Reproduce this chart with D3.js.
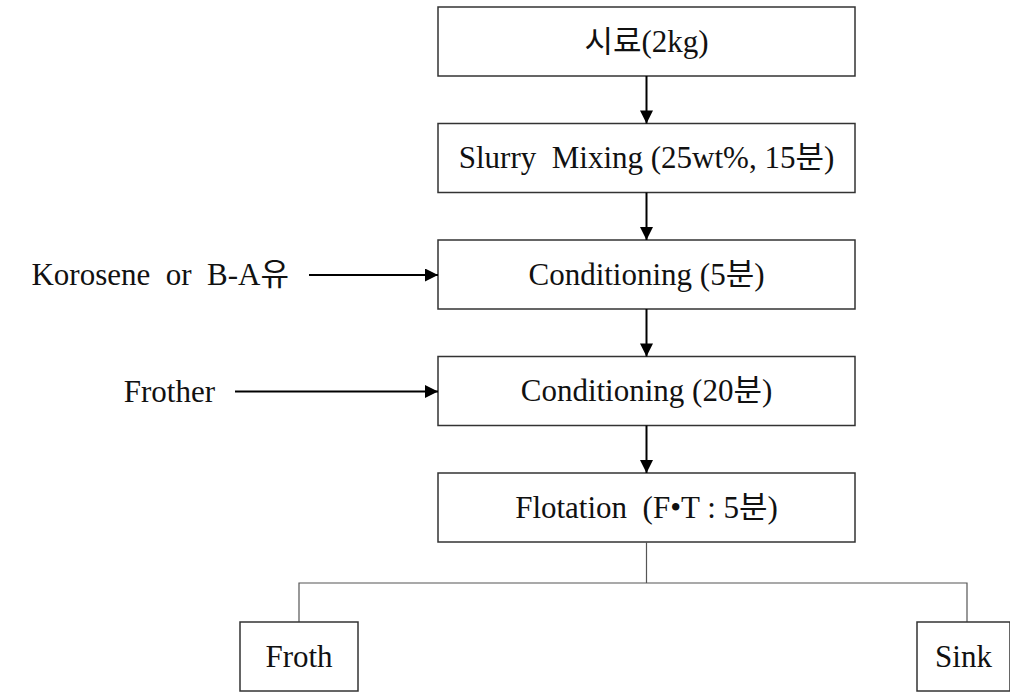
<!DOCTYPE html>
<html>
<head>
<meta charset="utf-8">
<script src="https://cdn.jsdelivr.net/npm/d3@7"></script>
<style>
  html, body { margin: 0; padding: 0; background: #fff; }
  svg text { font-family: "Liberation Serif", "DejaVu Serif", "Noto Sans CJK KR", serif; fill: #111; }
</style>
</head>
<body>
<svg id="chart" width="1010" height="692"></svg>
<script>
// Main process steps (top to bottom)
const STEPS = [
  "시료(2kg)",
  "Slurry  Mixing (25wt%, 15분)",
  "Conditioning (5분)",
  "Conditioning (20분)",
  "Flotation  (F•T : 5분)",
];

// Reagent inputs: label and the step it feeds
const INPUTS = [
  { label: "Korosene  or  B-A유", step: 2 },
  { label: "Frother", step: 3 },
];

// Products after flotation
const PRODUCTS = ["Froth", "Sink"];

const svg = d3.select("#chart");
const FS = 31;

// layout
const boxW = 417, boxH = 69;
const x = d3.scaleLinear().domain([0, 1]).range([438, 438 + boxW]);
const y = d3.scaleLinear().domain([0, STEPS.length - 1]).range([7, 473]);
const cx = x(0.5);

svg.append("defs").append("marker")
  .attr("id", "head")
  .attr("viewBox", "0 0 10 10")
  .attr("refX", 10).attr("refY", 5)
  .attr("markerWidth", 14).attr("markerHeight", 13)
  .attr("markerUnits", "userSpaceOnUse")
  .attr("orient", "auto")
  .append("path").attr("d", "M0,0 L10,5 L0,10 Z").attr("fill", "#000");

// boxes
const box = svg.selectAll("g.step").data(STEPS).join("g").attr("class", "step");
box.append("rect")
  .attr("x", x(0)).attr("y", (d, i) => y(i))
  .attr("width", boxW).attr("height", boxH)
  .attr("fill", "#fff").attr("stroke", "#333").attr("stroke-width", 1.5);
box.append("text")
  .attr("x", cx).attr("y", (d, i) => y(i) + boxH / 2 + 10)
  .attr("text-anchor", "middle").attr("font-size", FS)
  .style("white-space", "pre")
  .text(d => d);

// vertical arrows between steps
svg.selectAll("line.down").data(d3.range(STEPS.length - 1)).join("line")
  .attr("class", "down")
  .attr("x1", cx).attr("x2", cx)
  .attr("y1", i => y(i) + boxH).attr("y2", i => y(i + 1))
  .attr("stroke", "#000").attr("stroke-width", 2)
  .attr("marker-end", "url(#head)");

// input arrows
const inputStarts = [309, 235];
svg.selectAll("line.in").data(INPUTS).join("line")
  .attr("class", "in")
  .attr("x1", (d, i) => inputStarts[i]).attr("x2", x(0))
  .attr("y1", d => y(d.step) + 35).attr("y2", d => y(d.step) + 35)
  .attr("stroke", "#000").attr("stroke-width", 2)
  .attr("marker-end", "url(#head)");
svg.selectAll("text.in").data(INPUTS).join("text")
  .attr("class", "in")
  .attr("x", (d, i) => inputStarts[i] - 20)
  .attr("y", d => y(d.step) + 45)
  .attr("text-anchor", "end").attr("font-size", FS)
  .style("white-space", "pre")
  .text(d => d.label);

// split to products
const splitY = 583;
const prodX = d3.scalePoint().domain(PRODUCTS).range([299, 967]);
const prodW = [118, 93];
const prodLeft = [240, 917];
const prodTop = 622, prodH = 69;
const lastBottom = y(STEPS.length - 1) + boxH;

svg.append("path")
  .attr("d", `M${cx},${lastBottom} V${splitY} M${prodX("Froth")},${prodTop} V${splitY} H${prodX("Sink")} V${prodTop}`)
  .attr("fill", "none").attr("stroke", "#555").attr("stroke-width", 1.2);

const prod = svg.selectAll("g.prod").data(PRODUCTS).join("g").attr("class", "prod");
prod.append("rect")
  .attr("x", (d, i) => prodLeft[i]).attr("y", prodTop)
  .attr("width", (d, i) => prodW[i]).attr("height", prodH)
  .attr("fill", "#fff").attr("stroke", "#333").attr("stroke-width", 1.5);
prod.append("text")
  .attr("x", (d, i) => prodLeft[i] + prodW[i] / 2)
  .attr("y", prodTop + prodH / 2 + 10)
  .attr("text-anchor", "middle").attr("font-size", FS)
  .text(d => d);
</script>
</body>
</html>
